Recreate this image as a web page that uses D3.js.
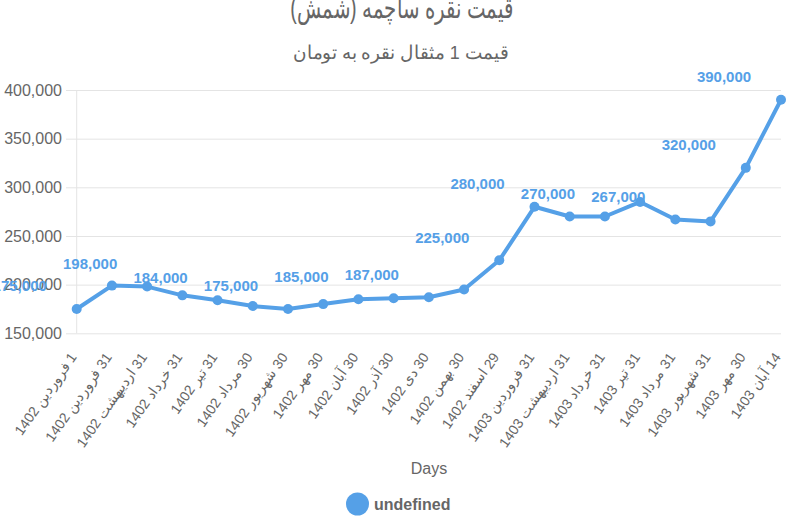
<!DOCTYPE html>
<html>
<head>
<meta charset="utf-8">
<script src="https://cdn.jsdelivr.net/npm/d3@7"></script>
<style>
  html, body { margin: 0; padding: 0; background: #fff; }
  svg { display: block; font-family: "Liberation Sans", Arial, sans-serif; }
</style>
</head>
<body>
<svg id="chart" width="800" height="521"></svg>
<script>
const categories = [
  "1 فروردین 1402", "31 فروردین 1402", "31 اردیبهشت 1402", "31 خرداد 1402",
  "31 تیر 1402", "30 مرداد 1402", "30 شهریور 1402", "30 مهر 1402",
  "30 آبان 1402", "30 آذر 1402", "30 دی 1402", "30 بهمن 1402",
  "29 اسفند 1402", "31 فروردین 1403", "31 اردیبهشت 1403", "31 خرداد 1403",
  "31 تیر 1403", "31 مرداد 1403", "31 شهریور 1403", "30 مهر 1403", "14 آبان 1403"
];
const prices = [
  175000, 199000, 198000, 189000, 184000, 178000, 175000, 180000,
  185000, 186000, 187000, 195000, 225000, 280000, 270000, 270000,
  285000, 267000, 265000, 320000, 390000
];
const labeledIndices = [0, 2, 4, 6, 8, 10, 12, 13, 15, 17, 19, 20];
const yTicks = [150000, 200000, 250000, 300000, 350000, 400000];
const titleText = "قیمت نقره ساچمه (شمش)";
const subtitleText = "قیمت 1 مثقال نقره به تومان";
const xTitle = "Days";
const legendLabel = "undefined";

const blue = "#55a0e7";
const gray = "#666";
const svg = d3.select("#chart");

const x = d3.scalePoint().domain(d3.range(categories.length)).range([76.7, 781]);
const y = d3.scaleLinear().domain([150000, 400000]).range([333.3, 90]);
const fmt = d3.format(",");

// Title & subtitle
svg.append("text").attr("x", 401.7).attr("y", 18).attr("text-anchor", "middle")
  .attr("direction", "rtl").attr("font-size", 29).attr("fill", gray)
  .attr("textLength", 223).attr("lengthAdjust", "spacingAndGlyphs").text(titleText);
svg.append("text").attr("x", 400.8).attr("y", 59).attr("text-anchor", "middle")
  .attr("direction", "rtl").attr("font-size", 18.5).attr("fill", gray)
  .attr("textLength", 215).attr("lengthAdjust", "spacingAndGlyphs").text(subtitleText);

// Gridlines + y axis
const yAxis = d3.axisLeft(y).tickValues(yTicks).tickFormat(fmt)
  .tickSize(-(781 - 66)).tickPadding(4);
const gy = svg.append("g").attr("transform", "translate(66,0)").call(yAxis);
gy.select(".domain").remove();
gy.selectAll(".tick line").attr("stroke", "#e4e4e4").attr("stroke-width", 1);
gy.selectAll(".tick text").attr("font-size", 16).attr("fill", gray)
  .attr("font-family", "Liberation Sans, Arial, sans-serif");

// Left axis line
svg.append("line").attr("x1", x(0)).attr("x2", x(0)).attr("y1", y(400000)).attr("y2", y(150000))
  .attr("stroke", "#e4e4e4").attr("stroke-width", 1);

// X axis labels
const xAxis = d3.axisBottom(x).tickSize(0).tickFormat(i => categories[i]);
const gx = svg.append("g").attr("transform", "translate(0,343)").call(xAxis);
gx.select(".domain").remove();
gx.selectAll(".tick text")
  .attr("font-size", 14).attr("fill", gray)
  .attr("font-family", "Liberation Sans, Arial, sans-serif")
  .attr("direction", "rtl")
  .attr("letter-spacing", 2.2)
  .attr("text-anchor", "start")
  .attr("dy", null).attr("y", 0).attr("x", 0)
  .attr("dominant-baseline", "middle")
  .attr("transform", "translate(-3,12) rotate(-55)");

// Line
const line = d3.line().x((d, i) => x(i)).y(d => y(d));
svg.append("path").datum(prices).attr("d", line).attr("fill", "none")
  .attr("stroke", blue).attr("stroke-width", 4).attr("stroke-linejoin", "round");

svg.selectAll("circle.pt").data(prices).join("circle").attr("class", "pt")
  .attr("cx", (d, i) => x(i)).attr("cy", d => y(d)).attr("r", 5).attr("fill", blue);

// Data labels
svg.selectAll("text.dl").data(labeledIndices).join("text").attr("class", "dl")
  .attr("x", i => x(i) - 57).attr("y", i => y(prices[i]) - 17.5)
  .attr("text-anchor", "middle").attr("font-size", 15).attr("font-weight", "bold")
  .attr("fill", blue).text(i => fmt(prices[i]));

// X title
svg.append("text").attr("x", 429).attr("y", 474).attr("text-anchor", "middle")
  .attr("font-size", 16).attr("fill", gray).text(xTitle);

// Legend
svg.append("circle").attr("cx", 357.5).attr("cy", 504).attr("r", 11.5).attr("fill", blue);
svg.append("text").attr("x", 374).attr("y", 510).attr("font-size", 16).attr("font-weight", "bold")
  .attr("fill", gray).text(legendLabel);
</script>
</body>
</html>
